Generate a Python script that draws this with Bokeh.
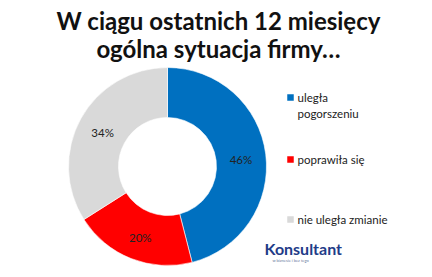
import numpy as np
from bokeh.plotting import figure
from bokeh.models import Range1d, ColumnDataSource
from bokeh.core.properties import value
from bokeh.embed import file_html
from bokeh.resources import INLINE

title_lines = ["W ciągu ostatnich 12 miesięcy", "ogólna sytuacja firmy…"]
categories = ["uległa pogorszeniu", "poprawiła się", "nie uległa zmianie"]
legend_lines = [["uległa", "pogorszeniu"], ["poprawiła się"], ["nie uległa zmianie"]]
shares = [46, 20, 34]
colors = ["#0070C0", "#FF0000", "#D9D9D9"]

W, H = 432, 277
p = figure(width=W, height=H, output_backend="svg", toolbar_location=None,
           x_range=Range1d(0, W), y_range=Range1d(0, H), min_border=0)
p.axis.visible = False
p.grid.visible = False
p.outline_line_color = None
p.background_fill_color = "white"
p.border_fill_color = "white"

# donut
cx, cy = 167, H - 166
r_out, r_in = 99, 49
fr = np.array(shares) / sum(shares)
cum = np.concatenate([[0], np.cumsum(fr)])
start = np.pi / 2 - 2 * np.pi * cum[:-1]
end = np.pi / 2 - 2 * np.pi * cum[1:]
src = ColumnDataSource(dict(start=start, end=end, color=colors))
p.annular_wedge(x=cx, y=cy, inner_radius=r_in, outer_radius=r_out,
                start_angle="start", end_angle="end", direction="clock",
                fill_color="color", line_color="white", line_width=0.6, source=src)

mid = (start + end) / 2
rm = (r_in + r_out) / 2
lx = cx + rm * np.cos(mid)
ly = cy + rm * np.sin(mid) - 2
p.text(x=lx, y=ly, text=[f"{s}%" for s in shares], text_font=value("Lato"),
       text_font_size="11.5px", text_color="#222222", text_align="center",
       text_baseline="middle")

# title
p.text(x=[218, 218], y=[H - 20, H - 48], text=title_lines, text_font=value("Lato"),
       text_font_size="24px", text_font_style="bold", text_color="#111111",
       text_align="center", text_baseline="middle")

# legend
leg_y = [H - 97, H - 159, H - 219]
p.rect(x=[290] * 3, y=leg_y, width=6.5, height=6.5, fill_color=colors, line_color=None)
tx, ty = [], []
for yv, lines in zip(leg_y, legend_lines):
    for k, ln in enumerate(lines):
        tx.append(297)
        ty.append(yv - 16 * k)
lt = [ln for lines in legend_lines for ln in lines]
p.text(x=tx, y=ty, text=lt, text_font=value("Lato"), text_font_size="11.5px",
       text_color="#222222", text_align="left", text_baseline="middle")

# logo text
p.text(x=[264], y=[H - 248], text=["Konsultant"], text_font=value("Lato"),
       text_font_size="16px", text_font_style="bold", text_color="#1F3C88",
       text_align="left", text_baseline="middle")
p.text(x=[272], y=[H - 260], text=["w biznesie i bez tego"], text_font=value("Lato"),
       text_font_size="4px", text_color="#6a7aa0", text_align="left",
       text_baseline="middle")

open("out.html", "w").write(file_html(p, INLINE))
